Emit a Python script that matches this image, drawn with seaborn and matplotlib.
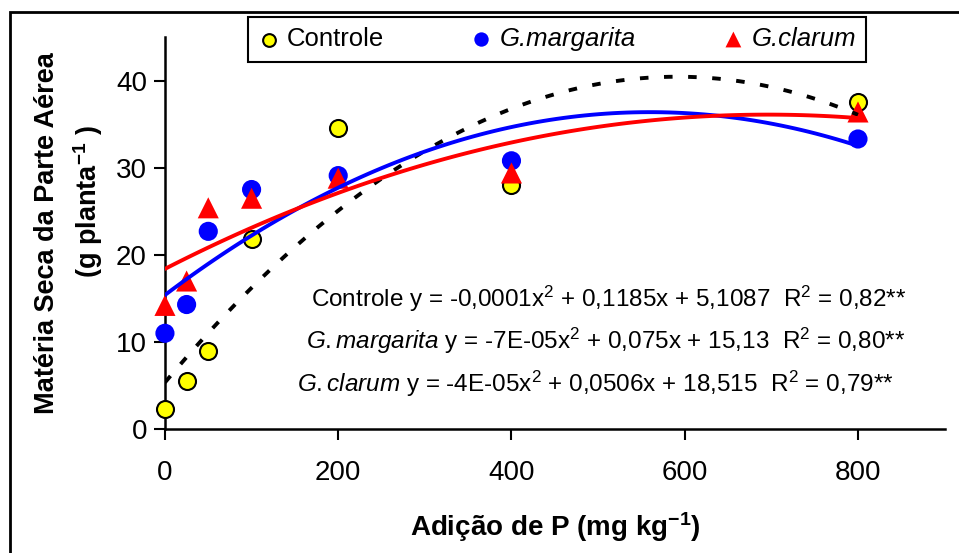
import matplotlib.pyplot as plt
import matplotlib.patches as patches
import numpy as np
import pandas as pd
import seaborn as sns

# doses de P (mg/kg)
doses = [0, 25, 50, 100, 200, 400, 800]
controle = [2.3, 5.5, 9.0, 21.8, 34.6, 28.0, 37.6]
margarita = [11.0, 14.3, 22.7, 27.5, 29.1, 30.8, 33.3]
clarum = [14.2, 17.0, 25.4, 26.5, 28.8, 29.4, 36.4]

x_ticks = [0, 200, 400, 600, 800]
y_ticks = [0, 10, 20, 30, 40]

equacoes = [
    r"Controle y = -0,0001x$^{2}$ + 0,1185x + 5,1087  R$^{2}$ = 0,82**",
    r"$\mathit{G.margarita}$ y = -7E-05x$^{2}$ + 0,075x + 15,13  R$^{2}$ = 0,80**",
    r"$\mathit{G.clarum}$ y = -4E-05x$^{2}$ + 0,0506x + 18,515  R$^{2}$ = 0,79**",
]

df = pd.DataFrame({"dose": doses, "controle": controle,
                   "margarita": margarita, "clarum": clarum})

sns.set_style("ticks", {"text.color": "black", "axes.labelcolor": "black",
                        "xtick.color": "black", "ytick.color": "black",
                        "axes.edgecolor": "black"})
plt.rcParams["font.family"] = ["Liberation Sans", "DejaVu Sans"]
plt.rcParams["mathtext.fontset"] = "custom"
plt.rcParams["mathtext.rm"] = "Liberation Sans"
plt.rcParams["mathtext.it"] = "Liberation Sans:italic"
plt.rcParams["mathtext.bf"] = "Liberation Sans:bold"

fig = plt.figure(figsize=(9.59, 5.53), dpi=100)
ax = fig.add_axes((0.172, 0.224, 0.813, 0.709))

# pontos
sns.scatterplot(data=df, x="dose", y="controle", ax=ax, color="#ffff00",
                edgecolor="black", linewidth=1.5, s=150, marker="o",
                label="Controle", zorder=3, clip_on=False)
sns.scatterplot(data=df, x="dose", y="margarita", ax=ax, color="#0000ff",
                edgecolor="none", s=190, marker="o",
                label="G.margarita", zorder=3, clip_on=False)
sns.scatterplot(data=df, x="dose", y="clarum", ax=ax, color="#ff0000",
                edgecolor="none", s=230, marker="^",
                label="G.clarum", zorder=3, clip_on=False)

# linhas de tendencia (polinomial 2a ordem)
sns.regplot(data=df, x="dose", y="controle", order=2, ci=None, scatter=False,
            ax=ax, line_kws=dict(color="black", lw=2.8, ls=(0, (2.2, 4.0)), zorder=4))
sns.regplot(data=df, x="dose", y="margarita", order=2, ci=None, scatter=False,
            ax=ax, line_kws=dict(color="#0000ff", lw=2.8, zorder=4))
sns.regplot(data=df, x="dose", y="clarum", order=2, ci=None, scatter=False,
            ax=ax, line_kws=dict(color="#ff0000", lw=2.8, zorder=4))

ax.set_xlim(0, 900)
ax.set_ylim(0, 45)
ax.set_xticks(x_ticks)
ax.set_yticks(y_ticks)
ax.tick_params(axis="both", labelsize=20, length=8, width=1.5, color="black",
               labelcolor="black", direction="out")
ax.tick_params(axis="x", pad=14)
ax.tick_params(axis="y", pad=5)
for s in ["left", "bottom"]:
    ax.spines[s].set_linewidth(1.8)
    ax.spines[s].set_color("black")
sns.despine(ax=ax)

ax.set_xlabel(r"Adição de P (mg kg$^{\mathbf{-1}}$)", fontsize=20,
              fontweight="bold", labelpad=18, color="black")
ax.set_ylabel("Matéria Seca da Parte Aérea", fontsize=19.5,
              fontweight="bold", labelpad=40, color="black")
fig.text(88 / 959, 1 - 202 / 553, r"(g planta$^{\mathbf{-1}}$ )", fontsize=19.5,
         fontweight="bold", rotation=90, ha="center", va="center", color="black")

# equacoes
eq_cx = [609, 606, 596]
eq_y = [15.0, 10.1, 5.2]
for txt, px, yy in zip(equacoes, eq_cx, eq_y):
    xx = (px - 165) / 0.8667
    ax.text(xx, yy, txt, fontsize=17.5, ha="center", va="center", color="black")

# legenda
leg = ax.legend(ncol=3, loc="center", bbox_to_anchor=(0.581, 0.929),
                bbox_transform=fig.transFigure, frameon=True, fancybox=False,
                edgecolor="black", framealpha=1, fontsize=18.5,
                handlelength=0.8, handletextpad=0.3, columnspacing=3.4,
                borderpad=0.4, markerscale=0.75, labelcolor="black")
leg.get_frame().set_linewidth(1.5)
for t in leg.get_texts()[1:]:
    t.set_fontstyle("italic")

# moldura externa
frame = patches.Rectangle((10 / 959, -0.1), 1.2, 0.1 + 1 - 12 / 553,
                          transform=fig.transFigure, fill=False,
                          edgecolor="black", linewidth=2, clip_on=False)
fig.patches.append(frame)

fig.savefig("out.png", dpi=100)
